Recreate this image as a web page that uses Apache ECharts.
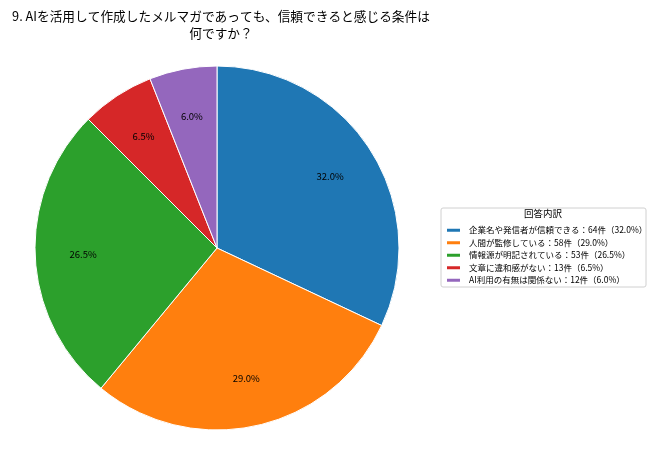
<!DOCTYPE html>
<html>
<head>
<meta charset="utf-8">
<script src="https://cdn.jsdelivr.net/npm/echarts@6/dist/echarts.min.js"></script>
<style>
  html, body { margin: 0; padding: 0; background: #fff; }
  #chart { width: 650px; height: 455px; }
</style>
</head>
<body>
<div id="chart"></div>
<script>
// 回答データ
var labels = ['企業名や発信者が信頼できる', '人間が監修している', '情報源が明記されている', '文章に違和感がない', 'AI利用の有無は関係ない']
var counts = [64, 58, 53, 13, 12]
var colors = ['#1f77b4', '#ff7f0e', '#2ca02c', '#d62728', '#9467bd']
var total = counts.reduce((a, b) => a + b, 0)

var font = '"Noto Sans CJK JP", "DejaVu Sans", sans-serif'
var pieData = labels.map((n, i) => ({ name: n, value: counts[i], itemStyle: { color: colors[i] } }))

var chart = echarts.init(document.getElementById('chart'))
chart.setOption({
    animation: false,
    textStyle: { fontFamily: font },
    title: {
        text: '9. AIを活用して作成したメルマガであっても、信頼できると感じる条件は\n何ですか？',
        left: 216,
        top: 3,
        textAlign: 'center',
        textStyle: { fontSize: 12.7, fontWeight: 'normal', color: '#000', lineHeight: 17, align: 'center', fontFamily: font }
    },
    legend: {
        orient: 'vertical',
        left: 440,
        top: 221,
        itemWidth: 15,
        itemHeight: 5,
        itemGap: 4,
        icon: 'rect',
        textStyle: { fontSize: 8.5, color: '#000', fontFamily: font, padding: [0, 0, 0, 3] },
        formatter: (name) => {
            var i = labels.indexOf(name)
            return name + '：' + counts[i] + '件（' + (counts[i] / total * 100).toFixed(1) + '%）'
        },
        data: labels
    },
    graphic: [
        {
            type: 'rect',
            shape: { x: 441, y: 208, width: 205, height: 79, r: 2 },
            style: { fill: 'none', stroke: '#d0d0d0', lineWidth: 1 },
            z: -1
        },
        {
            type: 'text',
            x: 543,
            y: 209,
            style: { text: '回答内訳', fontSize: 9.5, fill: '#000', textAlign: 'center', fontFamily: font }
        }
    ],
    series: [
        {
            type: 'pie',
            center: [217, 248],
            radius: [0, 182],
            startAngle: 90,
            clockwise: true,
            label: { show: false },
            labelLine: { show: false },
            itemStyle: { borderColor: '#fff', borderWidth: 1 },
            emphasis: { disabled: true },
            data: pieData
        },
        {
            // ラベル用（中心から約0.72倍の位置に配置）
            type: 'pie',
            center: [217, 248],
            radius: [80, 182],
            startAngle: 90,
            clockwise: true,
            silent: true,
            itemStyle: { color: 'rgba(0,0,0,0)' },
            label: {
                show: true,
                position: 'inside',
                fontSize: 9.5,
                color: '#000',
                fontFamily: font,
                formatter: (p) => (p.value / total * 100).toFixed(1) + '%'
            },
            labelLine: { show: false },
            emphasis: { disabled: true },
            data: labels.map((n, i) => ({ name: n, value: counts[i] }))
        }
    ]
})
</script>
</body>
</html>
